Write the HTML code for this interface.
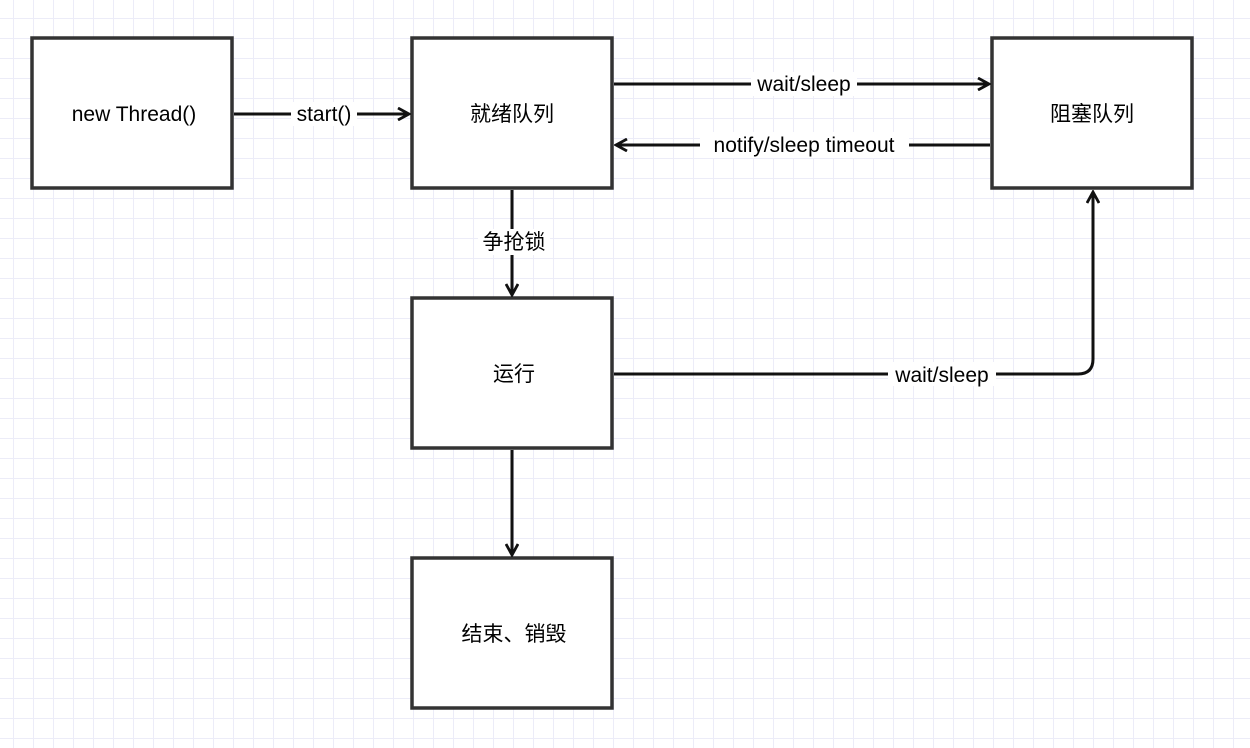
<!DOCTYPE html>
<html><head><meta charset="utf-8"><style>
body{margin:0;width:1250px;height:748px;overflow:hidden;background:#fff;
background-image:linear-gradient(#ececf8 1px,transparent 1px),linear-gradient(90deg,#ececf8 1px,transparent 1px);
background-size:20px 20px;background-position:13px 18px;}
</style></head><body>
<svg width="1250" height="748" style="position:absolute;left:0;top:0" font-family="Liberation Sans, Noto Sans CJK SC, sans-serif" font-size="21">
<defs><marker id="a" markerWidth="14" markerHeight="14" refX="12" refY="7" orient="auto" markerUnits="userSpaceOnUse">
<path d="M1,1 L12,7 L1,13" fill="none" stroke="#111" stroke-width="2.8"/></marker></defs>
<g fill="#fff" stroke="#333" stroke-width="3.5">
<rect x="32" y="38" width="200" height="150"/>
<rect x="412" y="38" width="200" height="150"/>
<rect x="992" y="38" width="200" height="150"/>
<rect x="412" y="298" width="200" height="150"/>
<rect x="412" y="558" width="200" height="150"/>
</g>
<g stroke="#111" stroke-width="3" fill="none" marker-end="url(#a)">
<line x1="234" y1="114" x2="409" y2="114"/>
<line x1="614" y1="84" x2="989" y2="84"/>
<line x1="990" y1="145" x2="616" y2="145"/>
<line x1="512" y1="190" x2="512" y2="295"/>
<path d="M614 374 H1078 Q1093 374 1093 359 V192"/>
<line x1="512" y1="450" x2="512" y2="555"/>
</g>
<g fill="#fff">
<rect x="291" y="102" width="66" height="24"/>
<rect x="751" y="72" width="106" height="24"/>
<rect x="700" y="132" width="209" height="26"/>
<rect x="478" y="229" width="72" height="26"/>
<rect x="888" y="362" width="108" height="24"/>
</g>
<g fill="#000" text-anchor="middle">
<text x="134" y="121">new Thread()</text>
<text x="512" y="121">就绪队列</text>
<text x="1092" y="121">阻塞队列</text>
<text x="514" y="381">运行</text>
<text x="514" y="641">结束、销毁</text>
<text x="324" y="121">start()</text>
<text x="804" y="91">wait/sleep</text>
<text x="804" y="152">notify/sleep timeout</text>
<text x="514" y="249">争抢锁</text>
<text x="942" y="382">wait/sleep</text>
</g>
</svg>
</body></html>
